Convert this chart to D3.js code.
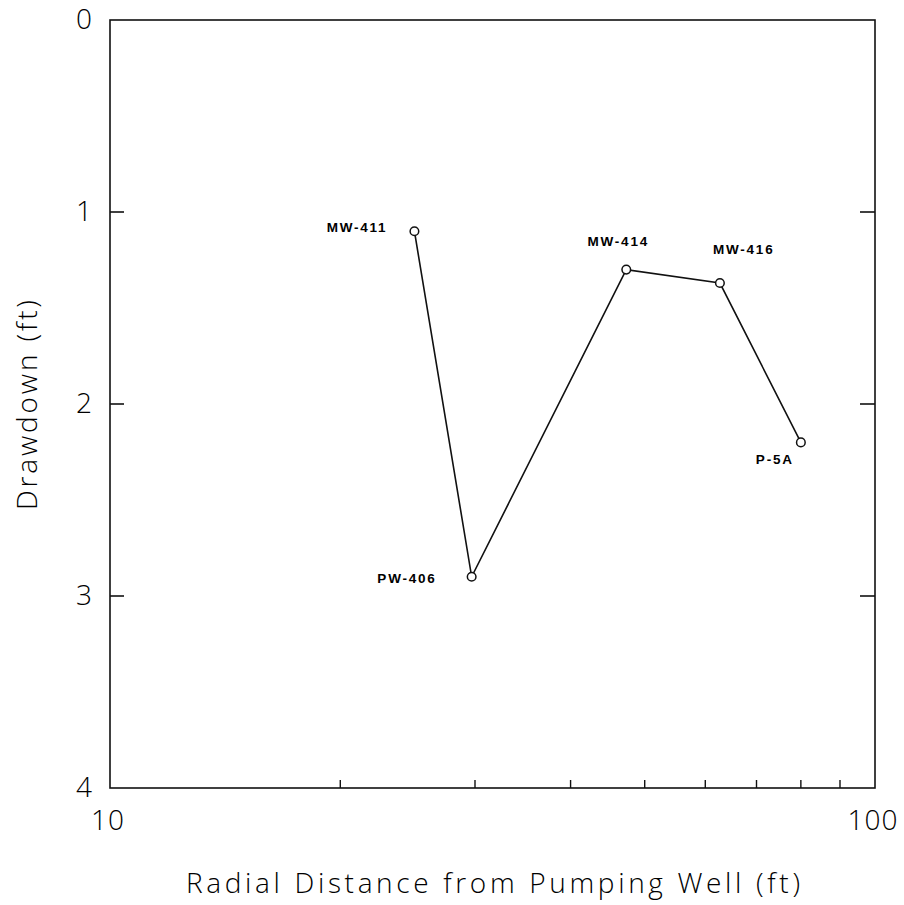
<!DOCTYPE html>
<html>
<head>
<meta charset="utf-8">
<script src="https://cdn.jsdelivr.net/npm/d3@7"></script>
<style>
  body { margin: 0; background: #fff; }
  text { font-family: "Open Sans", "Liberation Sans", sans-serif; fill: #000; }
  .tick-label { font-size: 28px; font-weight: 300; }
  .title { font-size: 28px; font-weight: 300; }
  .well { font-family: "Liberation Sans", sans-serif; font-size: 13.5px; font-weight: bold; }
</style>
</head>
<body>
<svg id="chart" width="904" height="905"></svg>
<script>
// well data
const wells = ['MW-411', 'PW-406', 'MW-414', 'MW-416', 'P-5A'];
const distance = [25, 29.7, 47.3, 62.7, 80];
const drawdown = [1.1, 2.9, 1.3, 1.37, 2.2];
const yTicks = [0, 1, 2, 3, 4];
const xMajorTicks = [10, 100];
const xMinorTicks = [20, 30, 40, 50, 60, 70, 80, 90];

// label offsets relative to each point (dx, dy, anchor)
const labelPos = [
  [-27, 1, 'end'],
  [-35, 6, 'end'],
  [-8, -24, 'middle'],
  [-7, -29, 'start'],
  [-45, 22, 'start']
];

const svg = d3.select('#chart');
const plotL = 110, plotR = 875, plotT = 20, plotB = 788;

let x = d3.scaleLog().domain([10, 100]).range([plotL, plotR]);
let y = d3.scaleLinear().domain([0, 4]).range([plotT, plotB]);

let g = svg.append('g');

// frame
g.append('rect')
  .attr('x', plotL).attr('y', plotT)
  .attr('width', plotR - plotL).attr('height', plotB - plotT)
  .attr('fill', 'none').attr('stroke', '#111').attr('stroke-width', 1.6);

// y ticks, inward on both sides
let inner = yTicks.filter(d => d > 0 && d < 4);
g.selectAll('.ytl').data(inner).enter().append('line')
  .attr('x1', plotL).attr('x2', plotL + 14)
  .attr('y1', d => y(d)).attr('y2', d => y(d))
  .attr('stroke', '#111').attr('stroke-width', 1.6);
g.selectAll('.ytr').data(inner).enter().append('line')
  .attr('x1', plotR).attr('x2', plotR - 15)
  .attr('y1', d => y(d)).attr('y2', d => y(d))
  .attr('stroke', '#111').attr('stroke-width', 1.6);

g.selectAll('.ylab').data(yTicks).enter().append('text')
  .attr('class', 'tick-label')
  .attr('x', plotL - 18).attr('y', d => y(d) + 9)
  .attr('text-anchor', 'end')
  .text(d => d);

// x minor ticks along the bottom
g.selectAll('.xt').data(xMinorTicks).enter().append('line')
  .attr('x1', d => x(d)).attr('x2', d => x(d))
  .attr('y1', plotB).attr('y2', plotB - 8)
  .attr('stroke', '#111').attr('stroke-width', 1.4);

g.selectAll('.xlab').data(xMajorTicks).enter().append('text')
  .attr('class', 'tick-label')
  .attr('x', d => x(d) - 2).attr('y', 830)
  .attr('text-anchor', 'middle')
  .style('letter-spacing', '1px')
  .text(d => d);

// axis titles
g.append('text')
  .attr('class', 'title')
  .attr('x', 493).attr('y', 893)
  .attr('text-anchor', 'middle')
  .attr('textLength', 614).attr('lengthAdjust', 'spacing')
  .text('Radial Distance from Pumping Well (ft)');

g.append('text')
  .attr('class', 'title')
  .attr('transform', 'translate(37,405) rotate(-90)')
  .attr('text-anchor', 'middle')
  .attr('textLength', 210).attr('lengthAdjust', 'spacing')
  .text('Drawdown (ft)');

// series
let pts = wells.map((w, i) => ({ name: w, x: distance[i], y: drawdown[i], pos: labelPos[i] }));

g.append('path')
  .datum(pts)
  .attr('fill', 'none').attr('stroke', '#111').attr('stroke-width', 1.6)
  .attr('d', d3.line().x(d => x(d.x)).y(d => y(d.y)));

g.selectAll('.pt').data(pts).enter().append('circle')
  .attr('cx', d => x(d.x)).attr('cy', d => y(d.y)).attr('r', 4.3)
  .attr('fill', '#fff').attr('stroke', '#111').attr('stroke-width', 1.5);

g.selectAll('.plab').data(pts).enter().append('text')
  .attr('class', 'well')
  .attr('x', d => x(d.x) + d.pos[0]).attr('y', d => y(d.y) + d.pos[1])
  .attr('text-anchor', d => d.pos[2])
  .style('letter-spacing', '1.8px')
  .text(d => d.name);
</script>
</body>
</html>
